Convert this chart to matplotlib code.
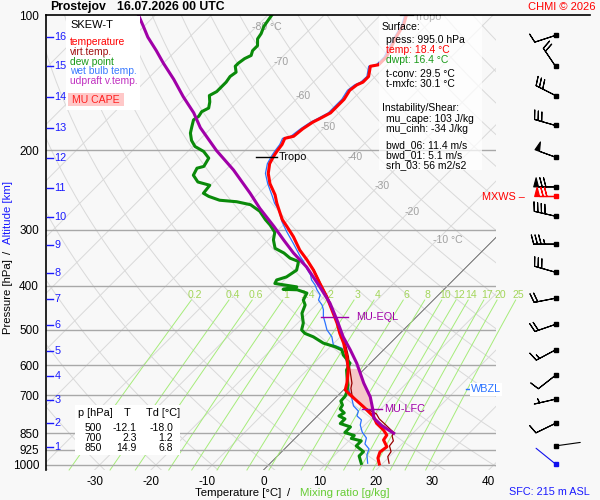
import numpy as np
import matplotlib
matplotlib.use("Agg")
import matplotlib.pyplot as plt
from matplotlib.patches import Rectangle
from matplotlib.lines import Line2D

plt.rcParams["font.family"] = ["Liberation Sans", "DejaVu Sans"]
plt.rcParams["axes.unicode_minus"] = False

### ---------------- sounding data ---------------- ###
temp_p = [995, 965, 936, 911, 880, 858, 836, 808, 781, 742, 699, 681, 658, 615,
          575, 536, 510, 484, 452, 423, 395, 369, 350, 333, 311, 295, 285, 276,
          262, 251, 237, 225, 214, 206, 201, 194, 188, 186, 179, 173, 170, 165,
          160, 154, 147, 143, 141, 137, 130, 129, 124, 112, 105, 100]
temp_t = [19.5, 18.2, 17.5, 17.8, 16.0, 15.7, 14.2, 11.8, 10.1, 6.5, 2.1, 0.3,
          -0.6, -2.7, -5.3, -8.3, -10.7, -13.0, -16.3, -19.5, -23.1, -26.6,
          -29.6, -32.6, -36.1, -39.1, -41.1, -42.6, -45.0, -46.8, -49.7, -51.8,
          -53.3, -53.9, -54.2, -54.5, -55.1, -53.9, -53.6, -53.0, -52.4, -51.5,
          -51.5, -51.5, -52.1, -51.8, -51.2, -51.2, -52.7, -51.5, -51.5, -53.3,
          -54.2, -55.4]

tv_p = [991, 958, 934, 907, 884, 862, 847, 832, 811, 790, 770, 757, 745, 723,
        699, 675, 658, 615, 575, 536, 510, 484, 452, 423, 395, 369, 350, 333,
        311, 295, 285, 276, 262, 251, 237, 225, 214, 206, 201, 194, 188, 186,
        179, 173, 170, 165, 160, 154, 147, 143, 141, 137, 130, 129, 124, 112,
        105, 100]
tv_t = [21.1, 19.7, 19.4, 18.1, 17.9, 16.8, 16.5, 15.2, 13.4, 11.5, 10.1, 8.4,
        6.8, 4.5, 2.4, 1.0, 0.3, -2.4, -5.0, -8.0, -10.4, -12.8, -16.1, -19.4,
        -23.0, -26.5, -29.6, -32.6, -36.1, -39.1, -41.1, -42.6, -45.0, -46.8,
        -49.7, -51.8, -53.3, -53.9, -54.2, -54.5, -55.1, -53.9, -53.6, -53.0,
        -52.4, -51.5, -51.5, -51.5, -52.1, -51.8, -51.2, -51.2, -52.7, -51.5,
        -51.5, -53.3, -54.2, -55.4]

dew_p = [992, 955, 934, 907, 884, 873, 860, 847, 823, 809, 790, 778, 766, 751,
         736, 721, 703, 687, 664, 637, 615, 594, 570, 555, 546, 536, 519, 510,
         501, 484, 460, 441, 430, 415, 408, 407, 402, 395, 388, 382, 369, 353,
         347, 338, 330, 316, 304, 293, 285, 273, 264, 260, 258, 253, 249, 239,
         235, 227, 219, 217, 208, 201, 196, 190, 183, 177, 171, 168, 164, 161,
         156, 151, 148, 144, 141, 137, 134, 130, 128, 125, 123, 120, 117, 113,
         110, 106, 103, 100]
dew_t = [16.2, 14.5, 14.5, 12.2, 12.2, 10.0, 10.0, 7.8, 7.8, 5.4, 5.4, 3.8, 4.2,
         2.8, 2.5, 1.5, 1.4, 0.9, -0.1, -1.7, -3.0, -3.6, -6.2, -7.4, -9.2,
         -11.9, -14.8, -16.9, -18.1, -19.0, -21.0, -21.9, -23.1, -23.7, -26.0,
         -28.6, -26.6, -31.1, -31.4, -30.2, -29.6, -30.8, -32.9, -34.9, -37.3,
         -39.1, -40.2, -42.3, -44.1, -46.6, -49.4, -52.4, -55.7, -58.3, -59.8,
         -60.1, -62.8, -64.8, -65.4, -64.5, -65.1, -67.2, -69.6, -71.3, -72.8,
         -73.7, -74.6, -74.3, -74.6, -74.0, -74.9, -76.1, -75.5, -75.5, -75.5,
         -75.8, -75.5, -76.7, -76.7, -76.4, -75.8, -76.4, -76.4, -77.6, -77.9,
         -78.7, -79.0, -79.3]

wb_p = [991, 950, 921, 898, 871, 845, 815, 794, 778, 759, 739, 710, 685, 657,
        615, 584, 565, 550, 541, 519, 501, 484, 468, 452, 441, 430, 419, 408,
        398, 388, 378, 366, 353, 344, 322, 303, 288, 271, 262, 253, 237, 225,
        214, 206, 201, 194, 188, 186, 179, 173, 170, 165, 160, 154, 147, 143,
        141, 137, 130, 129, 124, 112, 105, 100]
wb_t = [17.3, 15.7, 15.0, 13.4, 12.6, 10.8, 9.2, 8.5, 7.0, 6.4, 4.6, 2.9, 1.2,
        -0.5, -2.7, -4.9, -6.5, -7.7, -9.8, -11.5, -13.6, -15.1, -16.6, -17.8,
        -18.9, -20.4, -21.0, -22.5, -23.7, -25.2, -26.3, -28.1, -29.9, -31.4,
        -34.9, -38.2, -40.8, -43.5, -45.4, -47.0, -50.1, -52.3, -53.7, -54.3,
        -54.6, -54.9, -55.5, -54.4, -54.0, -53.4, -52.8, -51.9, -51.9, -51.9,
        -52.5, -52.2, -51.6, -51.5, -53.0, -51.9, -51.9, -53.6, -54.5, -55.7]

parcel_p = [850, 836, 817, 787, 755, 706, 658, 594, 555, 519, 476, 437, 402, 363,
            338, 316, 295, 269, 249, 221, 200, 178, 165, 152, 139, 128, 120, 112,
            106, 100]
parcel_t = [16.6, 15.1, 13.1, 10.4, 8.8, 6.0, 2.4, -2.4, -5.9, -9.5, -13.6, -17.8,
            -22.5, -28.4, -33.2, -37.3, -41.4, -47.1, -51.5, -58.6, -65.1, -72.0,
            -75.8, -80.5, -85.3, -90.0, -93.5, -97.4, -100.1, -103.0]

# wind barbs: pressure [hPa], direction [deg], speed
barb_p = [111, 130, 151, 176, 207, 241, 280, 323, 373, 426, 487, 555, 632, 714, 808]
barb_dir = [252, 326, 297, 286, 290, 270, 283, 270, 286, 259, 251, 242, 232, 257, 244]
barb_spd = [10, 20, 30, 30, 50, 70, 40, 35, 30, 20, 20, 15, 10, 5, 10]
calm_p = [907, 995]
calm_dir = [82, 309]
mxws_p, mxws_dir, mxws_spd = 252, 270, 70

# altitude marks [km] at pressure [hPa]
km_lab = list(range(1, 17))
km_p = [912, 806, 717, 634, 558, 488, 428, 374, 324, 281, 242, 208, 178, 152,
        130, 112]

isobars = [200, 300, 400, 500, 600, 700, 850, 925, 1000]
p_ticks = [100, 200, 300, 400, 500, 600, 700, 850, 925, 1000]
t_ticks = [-30, -20, -10, 0, 10, 20, 30, 40]
mix_w = [0.2, 0.4, 0.6, 1, 1.4, 2, 3, 4, 6, 8, 10, 12, 14, 17, 20, 25]
mix_lab = ["0.2", "0.4", "0.6", "1", "1.4", "2", "3", "4", "6", "8", "10", "12",
           "14", "17", "20", "25"]
iso_lab_t = [-80, -70, -60, -50, -40, -30, -20, -10]
iso_lab_p = [106.6, 127.1, 151.3, 177.3, 206.8, 239.4, 273.9, 316.2]

tab_p = [500, 700, 850]
tab_t = [-12.1, 2.3, 14.9]
tab_td = [-18.0, 1.2, 6.8]

lfc_p, eql_p, wbzl_p, tropo_p = 752, 470, 679, 206.3

### ---------------- skew-T helpers ---------------- ###
P_BOT, P_TOP = 1026.0, 100.0
SKEW = 34.7  # deg C per ln(p), gives 45 deg isotherms
BG = "#f8f8f8"
GRID = "#d9d9d9"
RED, DRED, GREEN, BLUE, PURP = "#ff0000", "#990000", "#0a8a0a", "#2a72ff", "#a000a8"
MIXC, MIXT = "#a6ec7a", "#a3d65a"
KMC = "#1a1aff"


def skew_x(t, p):
    return np.asarray(t, float) + SKEW * np.log(P_BOT / np.asarray(p, float))


def fpos(px, py):
    return px / 600.0, 1.0 - py / 500.0


def ftext(px, py, s, **kw):
    x, y = fpos(px, py)
    kw.setdefault("va", "center")
    kw.setdefault("fontsize", 7.6)
    return fig.text(x, y, s, **kw)


def fbox(px0, py0, px1, py1, **kw):
    x0, y1 = fpos(px0, py0)
    x1, y0 = fpos(px1, py1)
    r = Rectangle((x0, y0), x1 - x0, y1 - y0, transform=fig.transFigure,
                  lw=0, zorder=5, **kw)
    fig.add_artist(r)


fig = plt.figure(figsize=(6, 5), dpi=100, facecolor=BG)
ax = fig.add_axes([46 / 600, 30 / 500, 450 / 600, 455 / 500])
ax.set_facecolor(BG)
ax.set_yscale("log")
ax.set_ylim(P_BOT, P_TOP)
ax.set_xlim(-38.63, 41.30)

# background grid: isotherms and dry adiabats
pp = np.geomspace(P_BOT, P_TOP, 150)
for t0 in range(-160, 50, 10):
    ax.plot(skew_x(np.full_like(pp, t0), pp), pp, color=GRID, lw=0.7, zorder=1)
for th in range(-40, 230, 10):
    tk = (th + 273.15) * (pp / 1000.0) ** 0.2857 - 273.15
    ax.plot(skew_x(tk, pp), pp, color=GRID, lw=0.7, zorder=1)
ax.plot(skew_x(np.zeros_like(pp), pp), pp, color="#606060", lw=0.6, zorder=1.2)

for p in isobars:
    ax.axhline(p, color="#a8a8a8", lw=1.0, zorder=2)

# mixing ratio lines
pm = np.geomspace(P_BOT, 430, 40)
for w, lab in zip(mix_w, mix_lab):
    e = w * pm / (622.0 + w)
    lg = np.log(e / 6.112)
    td = 243.5 * lg / (17.67 - lg)
    ax.plot(skew_x(td, pm), pm, color=MIXC, lw=0.7, zorder=1.5, clip_on=False)
    e = w * 419.0 / (622.0 + w)
    lg = np.log(e / 6.112)
    ax.text(skew_x(243.5 * lg / (17.67 - lg), 419.0), 419.0, lab, color=MIXT,
            fontsize=7.6, ha="center", va="center", zorder=2, clip_on=False)

for t0, p0 in zip(iso_lab_t, iso_lab_p):
    s = "%d °C" % t0 if t0 in (-80, -10) else "%d" % t0
    ax.text(skew_x(t0 - 0.7, p0), p0, s, color="#a0a0a0", fontsize=7.6,
            ha="left", va="center", zorder=2)

# CAPE area
pg = np.linspace(610, 760, 80)
tp = np.interp(pg, parcel_p[::-1], parcel_t[::-1])
te = np.interp(pg, temp_p[::-1], temp_t[::-1])
ax.fill_betweenx(pg, skew_x(te, pg), skew_x(tp, pg), where=tp > te,
                 color="#f5c8c8", lw=0, zorder=3)

# profiles
ax.plot(skew_x(tv_t, tv_p), tv_p, color=DRED, lw=0.9, zorder=4)
ax.plot(skew_x(wb_t, wb_p), wb_p, color=BLUE, lw=0.9, zorder=4.2)
ax.plot(skew_x(dew_t, dew_p), dew_p, color=GREEN, lw=2.2, zorder=5)
ax.plot(skew_x(temp_t, temp_p), temp_p, color=RED, lw=2.2, zorder=5.2)
ax.plot(skew_x(parcel_t, parcel_p), parcel_p, color=PURP, lw=2.2, zorder=5.4)

# levels
ax.plot(skew_x([6.7, 10.2], [lfc_p] * 2), [lfc_p] * 2, color=PURP, lw=1, zorder=6)
ax.text(skew_x(10.6, lfc_p), lfc_p, "MU-LFC", color=PURP, fontsize=7.8,
        va="center", zorder=6)
ax.plot(skew_x([-16.8, -12.1], [eql_p] * 2), [eql_p] * 2, color=PURP, lw=1, zorder=6)
ax.text(skew_x(-10.6, eql_p), eql_p, "MU-EQL", color=PURP, fontsize=7.8,
        va="center", zorder=6)
ax.plot(skew_x([-57.0, -53.2], [tropo_p] * 2), [tropo_p] * 2, color="k", lw=1, zorder=6)
ax.text(skew_x(-52.9, tropo_p), tropo_p, "Tropo", color="k", fontsize=7.8,
        va="center", zorder=6)
ax.plot(skew_x([-56.6, -54.2], [100, 100]), [100, 100], color="k", lw=1, zorder=6)
ax.text(skew_x(-53.9, 100.8), 100.8, "Tropo", color="k", fontsize=7.8,
        va="center", zorder=6, clip_on=True)
ax.plot(skew_x([21.6, 22.3], [wbzl_p] * 2), [wbzl_p] * 2, color=BLUE, lw=1, zorder=6)
ax.text(skew_x(22.5, wbzl_p), wbzl_p, "WBZL", color=BLUE, fontsize=7.8,
        va="center", zorder=6, clip_on=False,
        bbox=dict(boxstyle="square,pad=0.12", fc="white", ec="none"))

# axes decoration
for s in ["top", "right", "bottom"]:
    ax.spines[s].set_visible(False)
ax.spines["left"].set_color("k")
ax.spines["left"].set_linewidth(1.2)
ax.set_yticks(p_ticks)
ax.set_yticklabels([str(p) for p in p_ticks])
ax.yaxis.set_minor_locator(matplotlib.ticker.NullLocator())
ax.set_xticks(t_ticks)
ax.set_xticklabels([str(t) for t in t_ticks])
ax.tick_params(axis="both", length=0, labelsize=8.5, colors="k")
ax.tick_params(axis="y", pad=5)
ax.tick_params(axis="x", pad=4)

ytr = ax.get_yaxis_transform()
for k, p in zip(km_lab, km_p):
    ax.plot([0.003, 0.015], [p, p], color=KMC, lw=1, transform=ytr, zorder=7,
            clip_on=False)
    ax.text(0.019, p, str(k), color=KMC, fontsize=7.8, va="center", ha="left",
            transform=ytr, zorder=7)

# wind barbs
bx = fig.add_axes([500 / 600, 30 / 500, 100 / 600, 455 / 500])
bx.set_yscale("log")
bx.set_ylim(P_BOT, P_TOP)
bx.set_xlim(500, 600)
bx.axis("off")
rad = np.deg2rad(barb_dir)
u = -np.array(barb_spd) * np.sin(rad)
v = -np.array(barb_spd) * np.cos(rad)
xb = np.full(len(barb_p), 555.5)
barb_sizes = dict(spacing=0.17, height=0.42, width=0.22)
bx.barbs(xb, barb_p, u, v, length=5.6, lw=0.8, color="k", sizes=barb_sizes)
bx.plot(xb, barb_p, "s", ms=2.6, color="k")
mr = np.deg2rad(mxws_dir)
bx.barbs([555.5], [mxws_p], [-mxws_spd * np.sin(mr)], [-mxws_spd * np.cos(mr)],
         length=5.6, lw=0.9, color=RED, sizes=barb_sizes)
bx.plot([555.5], [mxws_p], "s", ms=2.6, color=RED)
for p, d, c in zip(calm_p, calm_dir, ["k", "#1010ee"]):
    r = np.deg2rad(d)
    bx.annotate("", xy=(555.5, p), xytext=(18 * np.sin(r), 18 * np.cos(r)),
                textcoords="offset points",
                arrowprops=dict(arrowstyle="-", color=c, lw=0.8,
                                shrinkA=0, shrinkB=0))
    bx.plot([555.5], [p], "s", ms=2.6, color=c)

# frame line on top
x0, y0 = fpos(46, 15)
x1, _ = fpos(590, 15)
fig.add_artist(Line2D([x0, x1], [y0, y0], color="k", lw=1.2,
                      transform=fig.transFigure, zorder=4))

# title and labels
ftext(50, 7, "Prostejov", fontsize=8.8, fontweight="bold")
ftext(117, 7, "16.07.2026 00 UTC", fontsize=8.8, fontweight="bold")
ftext(596, 7, "CHMI © 2026", color=RED, ha="right", fontsize=8)
ftext(590, 492, "SFC: 215 m ASL", color=KMC, ha="right", fontsize=7.8)
ftext(238, 493, "Temperature [°C]", ha="center", fontsize=8.2)
ftext(289, 493, "/", ha="center", fontsize=8.2)
ftext(345, 493, "Mixing ratio [g/kg]", color="#66cc33", ha="center", fontsize=8.2)
ftext(8, 297, "Pressure [hPa]", rotation=90, ha="center", fontsize=8.2)
ftext(8, 252, "/", rotation=90, ha="center", fontsize=8.2)
ftext(8, 213, "Altitude [km]", rotation=90, ha="center", color=KMC, fontsize=8.2)
ftext(482, 197, "MXWS –", color=RED, fontsize=7.8)

# legend box
fbox(66, 16, 140, 110, fc="white")
fbox(68, 93, 124, 106, fc="#ffc8c8")
ftext(70, 25, "SKEW-T", fontsize=8, zorder=6)
for yy, s, c in [(42, "temperature", RED), (52, "virt.temp.", "#a01010"),
                 (62, "dew point", "#1a9a1a"), (71.5, "wet bulb temp.", "#3a7aff"),
                 (81.5, "udpraft v.temp.", "#c030c0")]:
    ftext(70, yy, s, color=c, fontsize=7.4, zorder=6)
ftext(96, 100, "MU CAPE", color="#ff2020", ha="center", fontsize=7.6, zorder=6)

# surface / instability box
fbox(379, 16, 482, 170, fc="white", alpha=0.72)
info = [(382, 27, "Surface:", "k"),
        (386, 40, "press: %.1f hPa" % 995.0, "k"),
        (386, 50, "temp: %.1f °C" % 18.4, RED),
        (386, 60, "dwpt: %.1f °C" % 16.4, "#1a9a1a"),
        (386, 74, "t-conv: %.1f °C" % 29.5, "k"),
        (386, 84.3, "t-mxfc: %.1f °C" % 30.1, "k"),
        (382, 108.3, "Instability/Shear:", "k"),
        (386, 119.3, "mu_cape: %d J/kg" % 103, "k"),
        (386, 129.3, "mu_cinh: %d J/kg" % -34, "k"),
        (386, 145, "bwd_06: %.1f m/s" % 11.4, "k"),
        (386, 155, "bwd_01: %.1f m/s" % 5.1, "k"),
        (386, 165, "srh_03: %d m2/s2" % 56, "k")]
for px, py, s, c in info:
    ftext(px, py, s, color=c, fontsize=7.5, zorder=6)

# level table
fbox(75, 405, 180, 455, fc="white")
ftext(78, 413.3, "p [hPa]", fontsize=7.9, zorder=6)
ftext(127, 413.3, "T", ha="center", fontsize=7.9, zorder=6)
ftext(146, 413.3, "Td [°C]", fontsize=7.9, zorder=6)
for i, (p, t, td) in enumerate(zip(tab_p, tab_t, tab_td)):
    yy = 428.3 + 10 * i
    ftext(102, yy, "%d" % p, ha="right", fontsize=7.5, zorder=6)
    ftext(136.7, yy, "%.1f" % t, ha="right", fontsize=7.5, zorder=6)
    ftext(173.3, yy, "%.1f" % td, ha="right", fontsize=7.5, zorder=6)

fig.savefig("out.png", dpi=100, facecolor=fig.get_facecolor())
